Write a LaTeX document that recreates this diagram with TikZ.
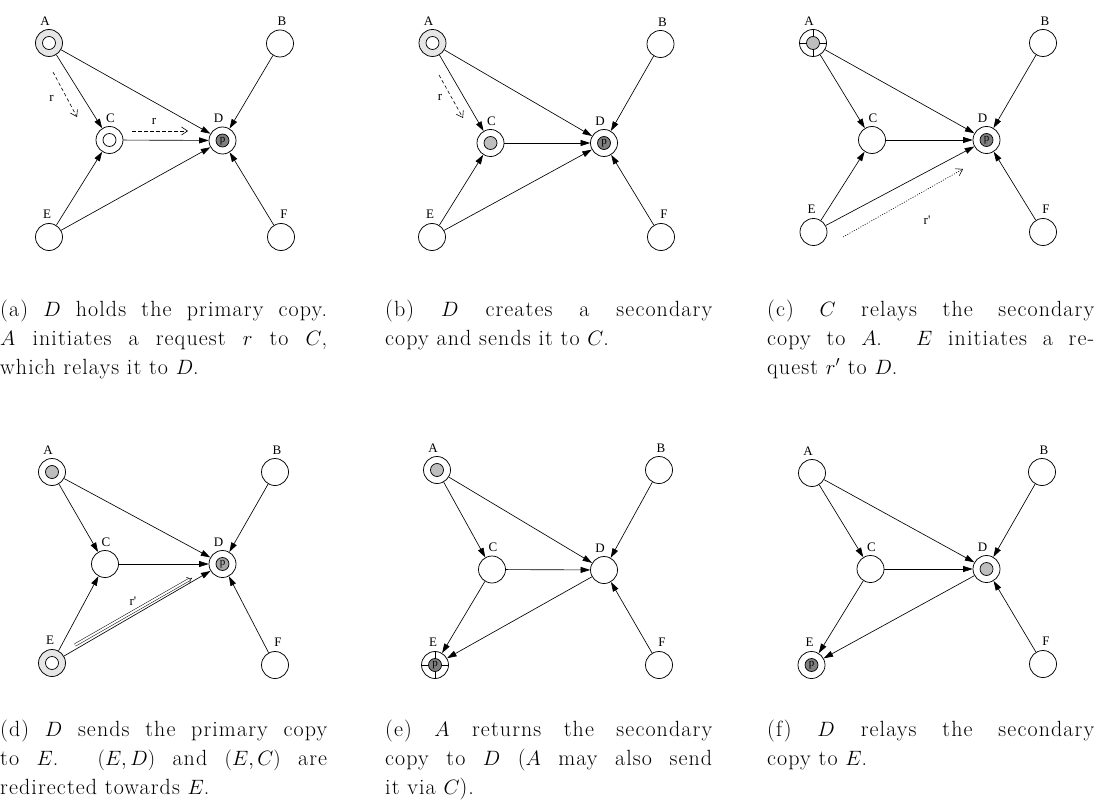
\documentclass[tikz,border=0pt]{standalone}
\usepackage{fontspec}
\setmainfont{Latin Modern Roman}[LetterSpace=5]
\newfontfamily\lblfont{Liberation Serif}
\usetikzlibrary{arrows.meta,calc}
\definecolor{lightg}{HTML}{E6E6E6}
\definecolor{midg}{HTML}{BEBEBE}
\definecolor{darkg}{HTML}{7F7F7F}
\definecolor{dmidg}{HTML}{A4A4A4}
\tikzset{
  nd/.style={circle, draw, line width=0.75pt, minimum size=27pt, inner sep=0pt, fill=white},
  lbl/.style={font=\lblfont\fontsize{13}{14}\selectfont, inner sep=0pt},
  pfont/.style={font=\lblfont\fontsize{11}{11}\selectfont, inner sep=0pt},
  edge/.style={line width=0.65pt, -{Triangle[length=9.5pt,width=6pt]}},
  msg/.style={line width=0.6pt, dash pattern=on 3.5pt off 2.5pt, -{Straight Barb[length=6pt,width=8pt]}},
  msgdot/.style={line width=0.6pt, dash pattern=on 1pt off 1.5pt, -{Straight Barb[length=6pt,width=8pt]}},
  msgdbl/.style={line width=0.5pt, double, double distance=2pt, -{Implies}},
  ring/.style={path picture={\draw[line width=0.7pt, fill=#1] (path picture bounding box.center) circle (6.5pt);}},
  pring/.style={path picture={\draw[line width=0.7pt, fill=#1] (path picture bounding box.center) circle (6.5pt);
      \node[pfont] at ([yshift=-0.5pt]path picture bounding box.center) {p};}},
  xring/.style={path picture={\draw[line width=0.7pt, fill=#1] (path picture bounding box.center) circle (6.5pt);
      \foreach \a in {0,90,180,270} \draw[line width=0.7pt] ($(path picture bounding box.center)+(\a:6.5pt)$) -- ($(path picture bounding box.center)+(\a:14pt)$);}},
  xpring/.style={path picture={\draw[line width=0.7pt, fill=#1] (path picture bounding box.center) circle (6.5pt);
      \foreach \a in {0,90,180,270} \draw[line width=0.7pt] ($(path picture bounding box.center)+(\a:6.5pt)$) -- ($(path picture bounding box.center)+(\a:14pt)$);
      \node[pfont] at ([yshift=-0.5pt]path picture bounding box.center) {p};}},
  captxt/.style={anchor=base west, inner sep=0pt, font=\fontsize{22}{29}\selectfont},
}
\newcommand\mklabels[1]{%
  \node[lbl] (#1Al) at ($(#1A)+(-4,-22)$) {A};
  \node[lbl] (#1Bl) at ($(#1B)+(2,-22)$) {B};
  \node[lbl] (#1Cl) at ($(#1C)+(1,-22)$) {C};
  \node[lbl] (#1Dl) at ($(#1D)+(-4,-22)$) {D};
  \node[lbl] (#1El) at ($(#1E)+(-2,-23)$) {E};
  \node[lbl] (#1Fl) at ($(#1F)+(3,-23)$) {F};}
\newcommand\mkedgesI[1]{%
  \draw[edge] (#1A) -- (#1C);
  \draw[edge] (#1A) -- (#1D);
  \draw[edge] (#1B) -- (#1D);
  \draw[edge] (#1C) -- (#1D);
  \draw[edge] (#1E) -- (#1C);
  \draw[edge] (#1E) -- (#1D);
  \draw[edge] (#1F) -- (#1D);}
\newcommand\mkedgesII[1]{%
  \draw[edge] (#1A) -- (#1C);
  \draw[edge] (#1A) -- (#1D);
  \draw[edge] (#1B) -- (#1D);
  \draw[edge] (#1C) -- (#1D);
  \draw[edge] (#1C) -- (#1E);
  \draw[edge] (#1D) -- (#1E);
  \draw[edge] (#1F) -- (#1D);}
\newcommand\jline[1]{\makebox[327pt][s]{#1}}
\begin{document}
\begin{tikzpicture}[x=1pt, y=-1pt]
\useasboundingbox (0,0) rectangle (1095,805);
% ---------- (a)
\node[nd, fill=lightg, ring=white] (aA) at (49,43) {};
\node[nd] (aB) at (280,43.5) {};
\node[nd, ring=white] (aC) at (109.5,140) {};
\node[nd, pring=darkg] (aD) at (222.5,140.5) {};
\node[nd] (aE) at (49,237) {};
\node[nd] (aF) at (281,237) {};
\mkedgesI{a}\mklabels{a}
\coordinate (ar1s) at (53,72); \coordinate (ar1e) at (77,117);
\draw[msg] (ar1s) -- (ar1e);
\node[lbl] (ar1l) at (51.5,98) {r};
\coordinate (ar2s) at (132,131); \coordinate (ar2e) at (188,131);
\draw[msg] (ar2s) -- (ar2e);
\node[lbl] (ar2l) at (154,121) {r};
% ---------- (b)
\node[nd, fill=lightg, ring=white] (bA) at (432.5,43) {};
\node[nd] (bB) at (660.5,44) {};
\node[nd, ring=midg] (bC) at (490.5,143) {};
\node[nd, pring=darkg] (bD) at (604,143) {};
\node[nd] (bE) at (432,237) {};
\node[nd] (bF) at (661,237) {};
\mkedgesI{b}\mklabels{b}
\coordinate (br1s) at (439,75); \coordinate (br1e) at (463,118);
\draw[msg] (br1s) -- (br1e);
\node[lbl] (br1l) at (440,97) {r};
% ---------- (c)
\node[nd, xring=midg] (cA) at (813,43) {};
\node[nd] (cB) at (1043,43) {};
\node[nd] (cC) at (872,140) {};
\node[nd, pring=darkg] (cD) at (986.5,140) {};
\node[nd] (cE) at (813.5,232) {};
\node[nd] (cF) at (1043,232) {};
\mkedgesI{c}\mklabels{c}
\coordinate (cr1s) at (843,237); \coordinate (cr1e) at (963,169);
\draw[msgdot] (cr1s) -- (cr1e);
\node[lbl] (cr1l) at (927,220) {r'};
% ---------- (d)
\node[nd, ring=midg] (dA) at (52,472) {};
\node[nd] (dB) at (275,472) {};
\node[nd] (dC) at (105,564) {};
\node[nd, pring=dmidg] (dD) at (222.5,564) {};
\node[nd, fill=lightg, ring=white] (dE) at (52,663) {};
\node[nd] (dF) at (275,665) {};
\mkedgesI{d}\mklabels{d}
\coordinate (dr1s) at (75,645); \coordinate (dr1e) at (192,578);
\draw[msgdbl] (dr1s) -- (dr1e);
\node[lbl] (dr1l) at (133,601) {r'};
% ---------- (e)
\node[nd, ring=midg] (eA) at (437,470) {};
\node[nd] (eB) at (659,470) {};
\node[nd] (eC) at (492,569.5) {};
\node[nd] (eD) at (604,570) {};
\node[nd, xpring=darkg] (eE) at (435,665) {};
\node[nd] (eF) at (659,665) {};
\mkedgesII{e}\mklabels{e}
% ---------- (f)
\node[nd] (fA) at (812,473) {};
\node[nd] (fB) at (1042,472) {};
\node[nd] (fC) at (870.5,569) {};
\node[nd, ring=midg] (fD) at (986.5,569) {};
\node[nd, pring=darkg] (fE) at (811.5,665) {};
\node[nd] (fF) at (1043,664) {};
\mkedgesII{f}\mklabels{f}
% ---------- captions
\node[captxt] (ca1) at (0,316) {\jline{(a) $D$ holds the primary copy.}};
\node[captxt] (ca2) at (0,345) {\jline{$A$ initiates a request $r$ to $C$,}};
\node[captxt] (ca3) at (0,374) {which relays it to $D$.};
\node[captxt] (cb1) at (385,316) {\jline{(b) $D$ creates a secondary}};
\node[captxt] (cb2) at (385,345) {copy and sends it to $C$.};
\node[captxt] (cc1) at (767,316) {\jline{(c) $C$ relays the secondary}};
\node[captxt] (cc2) at (767,345) {\jline{copy to $A$. $E$ initiates a re-}};
\node[captxt] (cc3) at (767,374) {quest $r'$ to $D$.};
\node[captxt] (cd1) at (0,736) {\jline{(d) $D$ sends the primary copy}};
\node[captxt] (cd2) at (0,765) {\jline{to $E$. $(E,D)$ and $(E,C)$ are}};
\node[captxt] (cd3) at (0,794) {redirected towards $E$.};
\node[captxt] (ce1) at (385,736) {\jline{(e) $A$ returns the secondary}};
\node[captxt] (ce2) at (385,765) {\jline{copy to $D$ ($A$ may also send}};
\node[captxt] (ce3) at (385,794) {it via $C$).};
\node[captxt] (cf1) at (767,736) {\jline{(f) $D$ relays the secondary}};
\node[captxt] (cf2) at (767,765) {copy to $E$.};
\end{tikzpicture}
\end{document}
